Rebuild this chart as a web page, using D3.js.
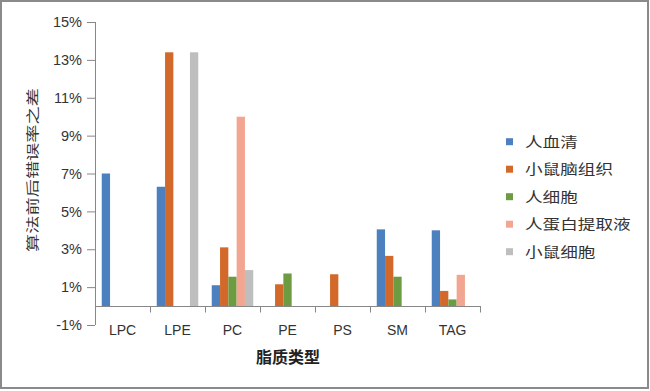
<!DOCTYPE html>
<html><head><meta charset="utf-8">
<script src="https://cdn.jsdelivr.net/npm/d3@7"></script>
<style>
html,body{margin:0;padding:0;background:#fff;}
svg{display:block;}
</style></head>
<body>
<svg id="chart" width="650" height="391"></svg>
<script>
const categories = ["LPC","LPE","PC","PE","PS","SM","TAG"];
const seriesNames = ["人血清","小鼠脑组织","人细胞","人蛋白提取液","小鼠细胞"];
const seriesColors = ["#4D80BE","#D2692B","#6C9B42","#F2A692","#BEBEBE"];
const humanSerum   = [7.0, 6.3, 1.1, 0, 0, 4.05, 4.0];
const mouseBrain   = [0, 13.4, 3.1, 1.15, 1.68, 2.65, 0.8];
const humanCell    = [0, 0, 1.55, 1.72, 0, 1.55, 0.35];
const humanProtein = [0, 0, 10.0, 0, 0, 0, 1.65];
const mouseCell    = [0, 13.4, 1.9, 0, 0, 0, 0];
const yTicks = [-1,1,3,5,7,9,11,13,15];
const yTitle = "算法前后错误率之差";
const xTitle = "脂质类型";

const seriesValues = [humanSerum, mouseBrain, humanCell, humanProtein, mouseCell];

const svg = d3.select("#chart");
const font = "'Liberation Sans', Arial, sans-serif";
const cjk = "'Noto Sans CJK SC', sans-serif";
const axisColor = "#878787";
const textColor = "#333333";

// border
svg.append("rect").attr("x",1).attr("y",1).attr("width",647).attr("height",387)
  .attr("fill","#fff").attr("stroke","#8a8a8a").attr("stroke-width",2);

const x = d3.scaleBand().domain(categories).range([95,480]).paddingInner(0).paddingOuter(0);
const bw = x.bandwidth();
const xs = d3.scaleBand().domain(seriesNames).range([bw*0.1227, bw*0.8773]);
const y = d3.scaleLinear().domain([-1,15]).range([325,22]);

// bars
seriesNames.forEach((s,i)=>{
  svg.append("g").selectAll("rect").data(seriesValues[i]).join("rect")
    .attr("x",(d,j)=>x(categories[j])+xs(s))
    .attr("width",xs.bandwidth())
    .attr("y",d=>y(Math.max(0,d)))
    .attr("height",d=>Math.abs(y(d)-y(0)))
    .attr("fill",seriesColors[i]);
});

// y axis
const yAxis = d3.axisLeft(y).tickValues(yTicks).tickFormat(d=>d+"%").tickSize(8).tickPadding(5);
const gy = svg.append("g").attr("transform","translate(95,0)").call(yAxis);
gy.select(".domain").attr("stroke",axisColor).attr("d","M0.5,22V325");
gy.selectAll(".tick line").attr("stroke",axisColor);
gy.selectAll(".tick text").attr("fill",textColor).style("font-family",font).style("font-size","14.5px");

// x axis line at 0
const x0 = Math.round(y(0))+0.5;
svg.append("line").attr("x1",95).attr("x2",481).attr("y1",x0).attr("y2",x0).attr("stroke",axisColor);
// boundary ticks
svg.append("g").selectAll("line").data(categories).join("line")
  .attr("x1",d=>Math.round(x(d)+bw)+0.5).attr("x2",d=>Math.round(x(d)+bw)+0.5)
  .attr("y1",x0).attr("y2",x0+6).attr("stroke",axisColor);
// category labels
svg.append("g").selectAll("text").data(categories).join("text")
  .attr("x",d=>x(d)+bw/2).attr("y",335)
  .attr("text-anchor","middle").attr("fill",textColor)
  .style("font-family",font).style("font-size","14px").text(d=>d);

// axis titles
svg.append("text").attr("x",288).attr("y",363).attr("text-anchor","middle")
  .attr("fill","#222").style("font-family",cjk).style("font-size","16px").style("font-weight","bold")
  .text(xTitle);
svg.append("text").attr("transform","translate(37,170) rotate(-90)").attr("text-anchor","middle")
  .attr("fill","#333").style("font-family",cjk).style("font-size","13px")
  .attr("textLength",164).attr("lengthAdjust","spacingAndGlyphs")
  .text(yTitle);

// legend
const lg = svg.append("g");
seriesNames.forEach((s,i)=>{
  const cy = 141.7 + i*27.5;
  lg.append("rect").attr("x",506).attr("y",cy-3.5).attr("width",7).attr("height",7).attr("fill",seriesColors[i]);
  lg.append("text").attr("x",525).attr("y",cy+5).attr("fill",textColor)
    .style("font-family",cjk).style("font-size","14px")
    .attr("textLength",s.length*17.6).attr("lengthAdjust","spacingAndGlyphs")
    .text(s);
});
</script>
</body></html>
